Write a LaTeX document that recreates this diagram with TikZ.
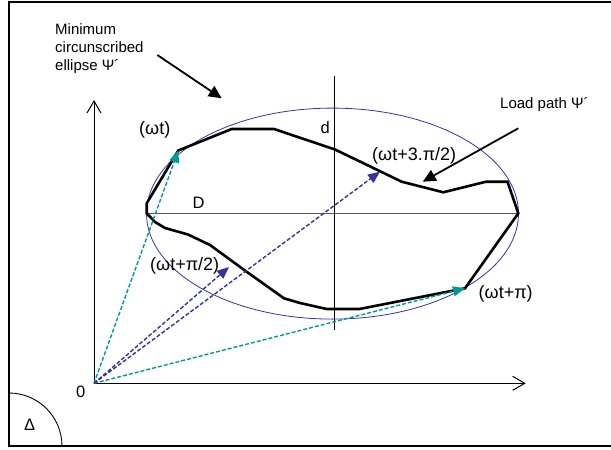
\documentclass[tikz,border=0pt]{standalone}
\usepackage{fontspec}
\setmainfont{Liberation Sans}
\usetikzlibrary{arrows.meta}
\definecolor{tealc}{RGB}{0,153,153}
\definecolor{navyc}{RGB}{51,51,153}
\definecolor{ellc}{RGB}{51,51,170}
\begin{document}
\begin{tikzpicture}[x=1pt,y=-1pt,
  font=\fontsize{15}{18}\selectfont,
  lbl/.style={inner sep=0pt, anchor=base west},
  biglbl/.style={lbl, font=\fontsize{18}{21}\selectfont},
  midlbl/.style={lbl, font=\fontsize{16.5}{20}\selectfont},
  axisline/.style={line width=0.9pt, -{Straight Barb[length=12pt,width=14pt,line width=1pt]}},
  vecteal/.style={tealc, line width=1.4pt, dash pattern=on 4pt off 2pt, -{Triangle[length=12pt,width=10pt]}},
  vecnavy/.style={navyc, line width=1.4pt, dash pattern=on 4pt off 2pt, -{Triangle[length=12pt,width=10pt]}},
  pointer/.style={line width=1.8pt, -{Triangle[length=13pt,width=12pt]}},
  loadpath/.style={line width=2.6pt}]
\useasboundingbox (0,0) rectangle (611,450);
% frame
\draw[line width=1.2pt] (611,2) -- (9,2) -- (9,446) -- (611,446);
\draw[line width=0.9pt] (9,393) arc[start angle=-90, end angle=0, radius=53];
\node[midlbl] (delta) at (24,430) {Δ};
% coordinates
\coordinate (O) at (94,383.3);
\coordinate (Ytip) at (94,100);
\coordinate (Xtip) at (525.7,383.3);
\coordinate (L) at (146.7,213.3);
\coordinate (R) at (518.3,213.3);
\coordinate (dtop) at (334.3,76);
\coordinate (dbot) at (334.3,330);
\coordinate (Pa) at (178.3,150.5);
\coordinate (Pb) at (465,288.3);
\coordinate (Pc) at (380,171.7);
\coordinate (Pd) at (229,267);
% axes
\draw[axisline] (O) -- (Ytip);
\draw[axisline] (O) -- (Xtip);
\node[midlbl] (zero) at (76,397.7) {0};
% ellipse and its axes
\draw[ellc, line width=0.8pt] (332.5,213.6) ellipse [x radius=186, y radius=105.5];
\draw[black!65, line width=0.9pt] (L) -- (R);
\draw[line width=0.8pt] (dtop) -- (dbot);
% load path
\draw[loadpath] (L) -- (146.7,203.3) -- (Pa) -- (231.7,129) -- (274,129) -- (335,149.5)
  -- (401.7,181.7) -- (443.3,192.3) -- (486,181.7) -- (507.5,181.7) -- (R)
  -- (Pb) -- (359.5,309) -- (326.7,309) -- (300,303) -- (284,298.3) -- (247,272)
  -- (210,245) -- (188,234.5) -- (165,228) -- (155,222) -- cycle;
% vectors
\draw[vecteal] (O) -- (Pa);
\draw[vecteal] (O) -- (Pb);
\draw[vecnavy] (O) -- (Pc);
\draw[vecnavy] (O) -- (Pd);
% labels
\node[biglbl] (lwt) at (139,134) {(ωt)};
\node[midlbl] (ld) at (320.5,133.3) {d};
\node[midlbl] (lD) at (192.5,208.3) {D};
\node[biglbl] (l3pi) at (372,160) {(ωt+3.π/2)};
\node[biglbl] (lpi2) at (150,270) {(ωt+π/2)};
\node[biglbl] (lpi) at (478.5,298) {(ωt+π)};
% annotations
\node[lbl] (min1) at (55,34.5) {Minimum};
\node[lbl] (min2) at (55,52.5) {circunscribed};
\node[lbl] (min3) at (55,70) {ellipse Ψ´};
\node[lbl] (load) at (500,108.3) {Load path Ψ´};
\coordinate (mA) at (157.3,55);
\coordinate (mB) at (221.7,98.3);
\coordinate (lA) at (518.3,128.3);
\coordinate (lB) at (422.7,181.7);
\draw[pointer] (mA) -- (mB);
\draw[pointer] (lA) -- (lB);
\end{tikzpicture}
\end{document}
